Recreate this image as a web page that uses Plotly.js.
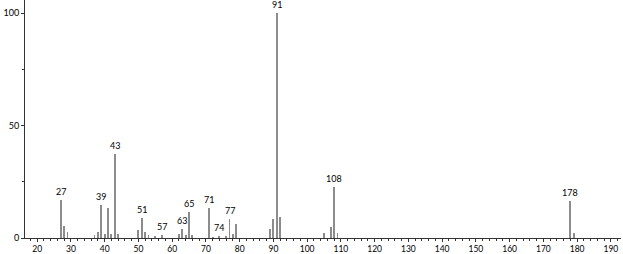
<!DOCTYPE html>
<html>
<head>
<meta charset="utf-8">
<script src="https://cdn.plot.ly/plotly-3.0.1.min.js"></script>
<style>html,body{margin:0;padding:0;background:#fff;}#chart{width:623px;height:254px;}</style>
</head>
<body>
<div id="chart"></div>
<script>
// m/z values and relative intensities
const mz = [27, 28, 29, 37, 38, 39, 40, 41, 42, 43, 44, 50, 51, 52, 53, 55, 57, 62, 63, 64, 65, 66, 71, 72, 74, 76, 77, 78, 79, 89, 90, 91, 92, 105, 107, 108, 109, 178, 179];
const intensity = [17, 5.3, 2.8, 1.2, 2.8, 14.6, 1.7, 13.2, 2, 37.3, 2, 3.7, 8.7, 2.7, 1.2, 1, 1.5, 1.6, 4.2, 1.2, 11.4, 1.2, 13.5, 0.6, 0.8, 1, 8.4, 2, 6.1, 3.9, 8.4, 100, 9.2, 2.2, 4.9, 22.8, 2.2, 16.4, 2.3];
// labelled peaks
const labelMz = [27, 39, 43, 51, 57, 63, 65, 71, 74, 77, 91, 108, 178];
const labelText = ["27", "39", "43", "51", "57", "63", "65", "71", "74", "77", "91", "108", "178"];
const xTickVals = [20, 30, 40, 50, 60, 70, 80, 90, 100, 110, 120, 130, 140, 150, 160, 170, 180, 190];
const yTickVals = [0, 50, 100];

const FONT = "Lato, 'Open Sans', sans-serif";

const annotations = labelMz.map((m, i) => {
  const idx = mz.indexOf(m);
  return {
    x: m, y: intensity[idx], text: labelText[i],
    showarrow: false, xanchor: 'center', yanchor: 'bottom', yshift: 1,
    font: {family: FONT, size: 9, color: '#000'}
  };
});

const data = [{
  type: 'bar', x: mz, y: intensity, width: 0.55,
  marker: {color: '#8c8c8c', line: {width: 0}},
  hoverinfo: 'x+y'
}];

const layout = {
  width: 623, height: 254,
  margin: {l: 25, r: 2, t: 0, b: 16, pad: 0},
  paper_bgcolor: '#fff', plot_bgcolor: '#fff',
  showlegend: false, bargap: 0,
  font: {family: FONT, size: 9, color: '#000'},
  xaxis: {
    range: [16.4, 193], tickmode: 'array', tickvals: xTickVals,
    ticks: 'outside', ticklen: 3, tickwidth: 1, tickcolor: '#333',
    minor: {dtick: 2, tick0: 0, ticks: 'outside', ticklen: 2, tickcolor: '#333', tickwidth: 1, showgrid: false},
    showline: true, linecolor: '#333', linewidth: 1,
    showgrid: false, zeroline: false,
    tickfont: {family: FONT, size: 8.5, color: '#000'}
  },
  yaxis: {
    range: [0, 105.8], tickmode: 'array', tickvals: yTickVals,
    ticks: 'outside', ticklen: 3, tickwidth: 1, tickcolor: '#333',
    minor: {dtick: 25, tick0: 0, ticks: 'outside', ticklen: 2, tickcolor: '#333', showgrid: false},
    showline: true, linecolor: '#333', linewidth: 1,
    showgrid: false, zeroline: false,
    tickfont: {family: FONT, size: 9, color: '#000'}
  },
  annotations: annotations
};

Plotly.newPlot('chart', data, layout, {staticPlot: true, displayModeBar: false});
</script>
</body>
</html>
